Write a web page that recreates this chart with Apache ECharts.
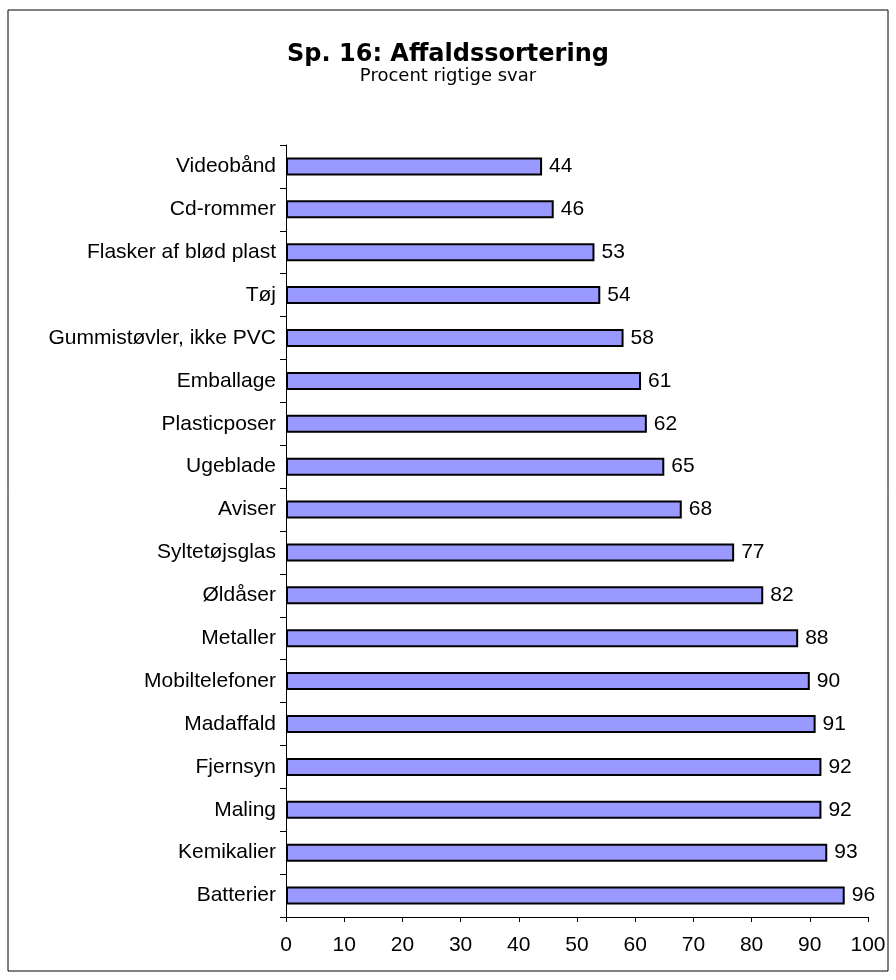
<!DOCTYPE html>
<html>
<head>
<meta charset="utf-8">
<script src="https://cdn.jsdelivr.net/npm/echarts@6/dist/echarts.min.js"></script>
<style>
  html, body { margin: 0; padding: 0; background: #fff; }
  #main { width: 896px; height: 980px; }
</style>
</head>
<body>
<div id="main"></div>
<script>
// kategorier fra top til bund
var categories = ['Videobånd', 'Cd-rommer', 'Flasker af blød plast', 'Tøj',
  'Gummistøvler, ikke PVC', 'Emballage', 'Plasticposer', 'Ugeblade', 'Aviser',
  'Syltetøjsglas', 'Øldåser', 'Metaller', 'Mobiltelefoner', 'Madaffald',
  'Fjernsyn', 'Maling', 'Kemikalier', 'Batterier'];
var values = [44, 46, 53, 54, 58, 61, 62, 65, 68, 77, 82, 88, 90, 91, 92, 92, 93, 96];
var xTicks = [0, 10, 20, 30, 40, 50, 60, 70, 80, 90, 100];

var myChart = echarts.init(document.getElementById('main'));
var option = {
  animation: false,
  backgroundColor: '#fff',
  title: {
    text: 'Sp. 16: Affaldssortering',
    subtext: 'Procent rigtige svar',
    left: 'center',
    top: 38,
    itemGap: 0,
    textStyle: { fontFamily: 'DejaVu Sans', fontWeight: 'bold', fontSize: 24, color: '#000' },
    subtextStyle: { fontFamily: 'DejaVu Sans', fontSize: 18, color: '#000' }
  },
  graphic: [{
    type: 'rect',
    shape: { x: 8, y: 10, width: 880, height: 961 },
    style: { fill: 'none', stroke: '#000', lineWidth: 1 },
    silent: true
  }],
  grid: { left: 286, right: 28, top: 145, bottom: 63 },
  xAxis: {
    type: 'value',
    min: 0,
    max: 100,
    interval: 10,
    splitLine: { show: false },
    axisLine: { show: true, lineStyle: { color: '#000', width: 1 } },
    axisTick: { show: true, length: 5, lineStyle: { color: '#000' } },
    axisLabel: {
      fontFamily: 'Liberation Sans', fontSize: 21, color: '#000', margin: 18,
      formatter: function (v) { return xTicks.indexOf(v) >= 0 ? String(v) : ''; }
    }
  },
  yAxis: {
    type: 'category',
    data: categories,
    inverse: true,
    axisLine: { show: true, lineStyle: { color: '#000', width: 1 } },
    axisTick: { show: true, length: 6, lineStyle: { color: '#000' } },
    axisLabel: { fontFamily: 'Liberation Sans', fontSize: 21, color: '#000', margin: 10 }
  },
  series: [{
    type: 'bar',
    data: values,
    barWidth: 18,
    itemStyle: { color: '#9999ff', borderColor: '#000', borderWidth: 2 },
    label: {
      show: true,
      position: 'right',
      distance: 7,
      fontFamily: 'Liberation Sans',
      fontSize: 21,
      color: '#000'
    }
  }]
};
myChart.setOption(option);
</script>
</body>
</html>
